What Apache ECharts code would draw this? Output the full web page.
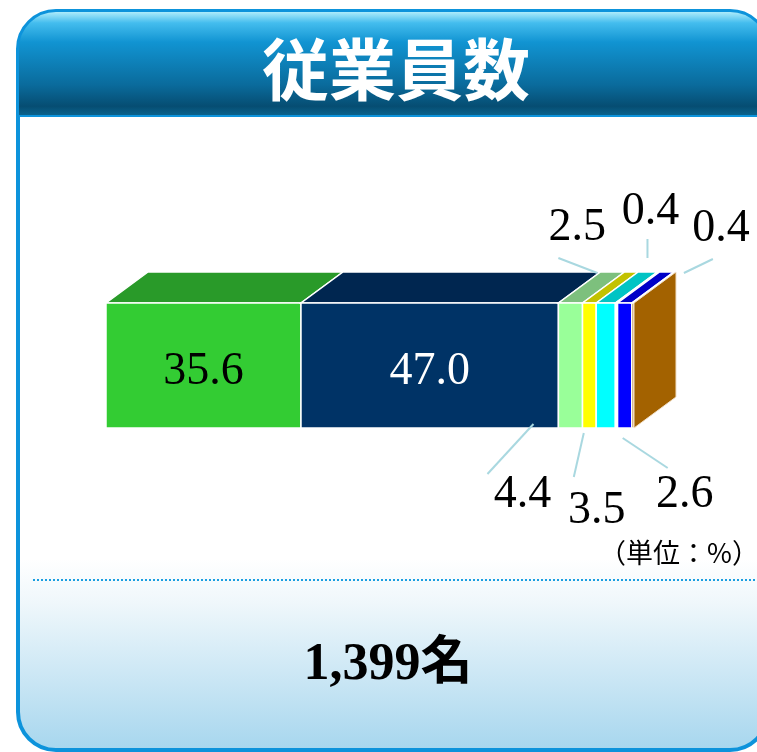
<!DOCTYPE html>
<html lang="ja">
<head>
    <meta charset="UTF-8">
    <title>従業員数</title>
    <script src="https://cdn.jsdelivr.net/npm/echarts@6/dist/echarts.min.js"></script>
    <style>
        html, body { margin: 0; padding: 0; background: #fff; }
        #main { width: 757px; height: 752px; }
    </style>
</head>
<body>
<div id="main"></div>
<script>
    // 構成比（単位：%）
    var shares = [35.6, 47.0, 4.4, 2.5, 3.5, 0.4, 2.6, 0.4];
    var frontColors = ['#33CC33', '#003366', '#99FF99', '#FFFF00', '#00FFFF', '#FFFFFF', '#0000FF', '#A36200'];
    var topColors = ['#299A29', '#002650', '#7DC07D', '#C2C200', '#00C4C4', '#F4F4F4', '#0000C8', '#A36200'];
    var sideColor = '#A36200';
    var totalText = '1,399名';

    // ラベル位置：in = 中, top = 上, bottom = 下
    var labelPlace = ['in', 'in', 'bottom', 'top', 'bottom', 'top', 'bottom', 'top'];
    // [文字dx, 文字dy, 線始dx, 線始dy, 線終dx, 線終dy]
    var labelOffset = [
        [0, 6], [0, 6],
        [-48, 67, -37, -4, -83, 46],
        [-12, -75, 8, -30, -31, -45],
        [-9, 83, -22, 5, -32, 49],
        [34, -91, 31, -45, 31, -64],
        [60, 67, -2, 10, 43, 40],
        [88, -74, 51, -30, 80, -44]
    ];

    var DX = 42, DY = -31;

    var total = 0;
    var segData = [];
    shares.forEach(function (v, i) {
        segData.push([total, total + v, i]);
        total += v;
    });

    var myChart = echarts.init(document.getElementById('main'));

    function renderSeg(params, api) {
        var i = api.value(2);
        var p0 = api.coord([api.value(0), 1]);
        var p1 = api.coord([api.value(1), 0]);
        var x0 = p0[0], y0 = p0[1], x1 = p1[0], y1 = p1[1];
        var cx = (x0 + x1) / 2;
        var children = [];
        children.push({
            type: 'polygon',
            shape: {points: [[x0, y0], [x1, y0], [x1 + DX, y0 + DY], [x0 + DX, y0 + DY]]},
            style: {fill: topColors[i], stroke: '#ffffff', lineWidth: 1.5}
        });
        children.push({
            type: 'rect',
            shape: {x: x0, y: y0, width: x1 - x0, height: y1 - y0},
            style: {fill: frontColors[i], stroke: '#ffffff', lineWidth: 1.5}
        });
        if (i === shares.length - 1) {
            children.push({
                type: 'polygon',
                shape: {points: [[x1, y0], [x1 + DX, y0 + DY], [x1 + DX, y1 + DY], [x1, y1]]},
                style: {fill: sideColor, stroke: '#f2e0c8', lineWidth: 1}
            });
        }
        var off = labelOffset[i];
        var txt = shares[i].toFixed(1);
        if (labelPlace[i] === 'in') {
            children.push({
                type: 'text',
                style: {
                    x: cx + off[0], y: (y0 + y1) / 2 + off[1], text: txt,
                    fill: i === 1 ? '#ffffff' : '#000000',
                    font: '46px "Liberation Serif", serif',
                    align: 'center', verticalAlign: 'middle'
                }
            });
        } else {
            var ay = labelPlace[i] === 'top' ? y0 : y1;
            children.push({
                type: 'line',
                shape: {x1: cx + off[2], y1: ay + off[3], x2: cx + off[4], y2: ay + off[5]},
                style: {stroke: '#A9D8E0', lineWidth: 2}
            });
            children.push({
                type: 'text',
                style: {
                    x: cx + off[0], y: ay + off[1], text: txt,
                    fill: '#000000',
                    font: '46px "Liberation Serif", serif',
                    align: 'center', verticalAlign: 'middle'
                }
            });
        }
        return {type: 'group', children: children};
    }

    var option = {
        animation: false,
        graphic: [
            {
                type: 'rect', z: -10,
                shape: {x: 18, y: 11, width: 750, height: 739, r: 38},
                style: {
                    fill: new echarts.graphic.LinearGradient(0, 0, 0, 1, [
                        {offset: 0, color: '#ffffff'},
                        {offset: 0.74, color: '#ffffff'},
                        {offset: 0.8, color: '#EFF7FB'},
                        {offset: 1, color: '#A6D6EE'}
                    ]),
                    stroke: '#0D93DB', lineWidth: 4
                }
            },
            {
                type: 'rect', z: -9,
                shape: {x: 18, y: 11, width: 750, height: 105, r: [38, 38, 0, 0]},
                style: {
                    fill: new echarts.graphic.LinearGradient(0, 0, 0, 1, [
                        {offset: 0, color: '#C0F4FD'},
                        {offset: 0.12, color: '#44BDEE'},
                        {offset: 0.3, color: '#1194D2'},
                        {offset: 0.7, color: '#0A6B9C'},
                        {offset: 0.9, color: '#064D72'},
                        {offset: 1, color: '#0B6792'}
                    ]),
                    stroke: '#0D93DB', lineWidth: 2
                }
            },
            {
                type: 'line', z: -8,
                shape: {x1: 33, y1: 580, x2: 757, y2: 580},
                style: {stroke: '#1A9EE0', lineWidth: 2, lineDash: [2, 2]}
            },
            {
                type: 'text', z: 10,
                style: {
                    x: 396, y: 70, text: '従業員数',
                    fill: '#ffffff',
                    font: 'bold 67px "Noto Sans CJK JP", sans-serif',
                    align: 'center', verticalAlign: 'middle',
                    shadowColor: 'rgba(0,0,0,0.6)', shadowBlur: 4, shadowOffsetX: 2, shadowOffsetY: 2
                }
            },
            {
                type: 'text', z: 10,
                style: {
                    x: 679, y: 553, text: '（単位：%）',
                    fill: '#000000',
                    font: '27px "Noto Sans CJK JP", sans-serif',
                    align: 'center', verticalAlign: 'middle'
                }
            },
            {
                type: 'text', z: 10,
                style: {
                    x: 388, y: 666, text: totalText,
                    fill: '#000000',
                    font: 'bold 52px "Liberation Serif", "Noto Sans CJK JP", serif',
                    align: 'center', verticalAlign: 'middle'
                }
            }
        ],
        grid: {left: 106, width: 528, top: 303, height: 125},
        xAxis: {type: 'value', min: 0, max: total, show: false},
        yAxis: {type: 'value', min: 0, max: 1, show: false},
        series: [{
            type: 'custom',
            renderItem: renderSeg,
            data: segData,
            clip: false
        }]
    };

    myChart.setOption(option);
</script>
</body>
</html>
